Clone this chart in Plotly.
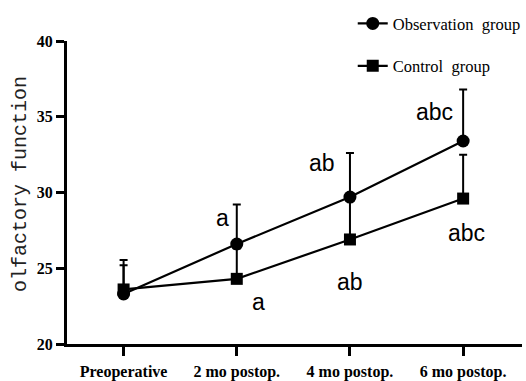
import plotly.graph_objects as go

categories = ["Preoperative", "2 mo postop.", "4 mo postop.", "6 mo postop."]
obs_mean = [23.3, 26.6, 29.7, 33.4]
obs_err = [1.9, 2.6, 2.9, 3.4]
ctrl_mean = [23.6, 24.3, 26.9, 29.6]
ctrl_err = [1.95, 2.0, 2.6, 2.9]

label_text = ["a", "a", "ab", "ab", "abc", "abc"]
label_x = [0.87, 1.19, 1.75, 2.0, 2.75, 3.03]
label_y = [28.3, 22.8, 31.95, 24.1, 35.3, 27.3]

xs = list(range(len(categories)))
serif = "Liberation Serif, Times New Roman, serif"

fig = go.Figure()
fig.add_trace(go.Scatter(
    x=xs, y=ctrl_mean, mode="lines+markers", name="Control  group",
    legendgroup="c", legendrank=2,
    line=dict(color="black", width=2.2),
    marker=dict(symbol="square", size=12, color="black"),
    error_y=dict(type="data", array=ctrl_err, arrayminus=[0]*4, symmetric=False,
                 color="black", thickness=2, width=4),
))
fig.add_trace(go.Scatter(
    x=xs, y=obs_mean, mode="lines+markers", name="Observation  group",
    legendgroup="o", legendrank=1,
    line=dict(color="black", width=2.2),
    marker=dict(symbol="circle", size=13, color="black"),
    error_y=dict(type="data", array=obs_err, arrayminus=[0]*4, symmetric=False,
                 color="black", thickness=2, width=4),
))

for t, x, y in zip(label_text, label_x, label_y):
    fig.add_annotation(x=x, y=y, text=t, showarrow=False, xref="x", yref="y",
                       font=dict(family="Liberation Sans, Arial, sans-serif", size=23, color="black"))

fig.add_annotation(x=-0.1033, y=0.528, xref="paper", yref="paper", text="olfactory function",
                   textangle=-90, showarrow=False, xanchor="center", yanchor="middle",
                   font=dict(family="Liberation Mono, Courier New, monospace", size=20, color="#222"))

fig.update_layout(
    width=526, height=381,
    margin=dict(l=67, r=4, t=41, b=37, autoexpand=False),
    paper_bgcolor="white", plot_bgcolor="white",
    showlegend=True,
    legend=dict(x=0.628, xanchor="left", y=1.115, yanchor="top",
                font=dict(family=serif, size=16.5, color="black"),
                tracegroupgap=18, bgcolor="rgba(0,0,0,0)"),
    xaxis=dict(range=[-0.5, 3.52], tickvals=xs, ticktext=categories, automargin=False,
               showgrid=False, zeroline=False, showline=True, linecolor="black", linewidth=3,
               ticks="outside", ticklen=9, tickwidth=3, tickcolor="black",
               ticklabelstandoff=2,
               tickfont=dict(family=serif, size=16, color="black", weight="bold")),
    yaxis=dict(range=[20, 40], tickvals=[20, 25, 30, 35, 40], automargin=False,
               showgrid=False, zeroline=False, showline=True, linecolor="black", linewidth=3,
               ticks="outside", ticklen=8, tickwidth=3, tickcolor="black",
               tickfont=dict(family=serif, size=16, color="black", weight="bold")),
)

fig.write_html("out.html")
